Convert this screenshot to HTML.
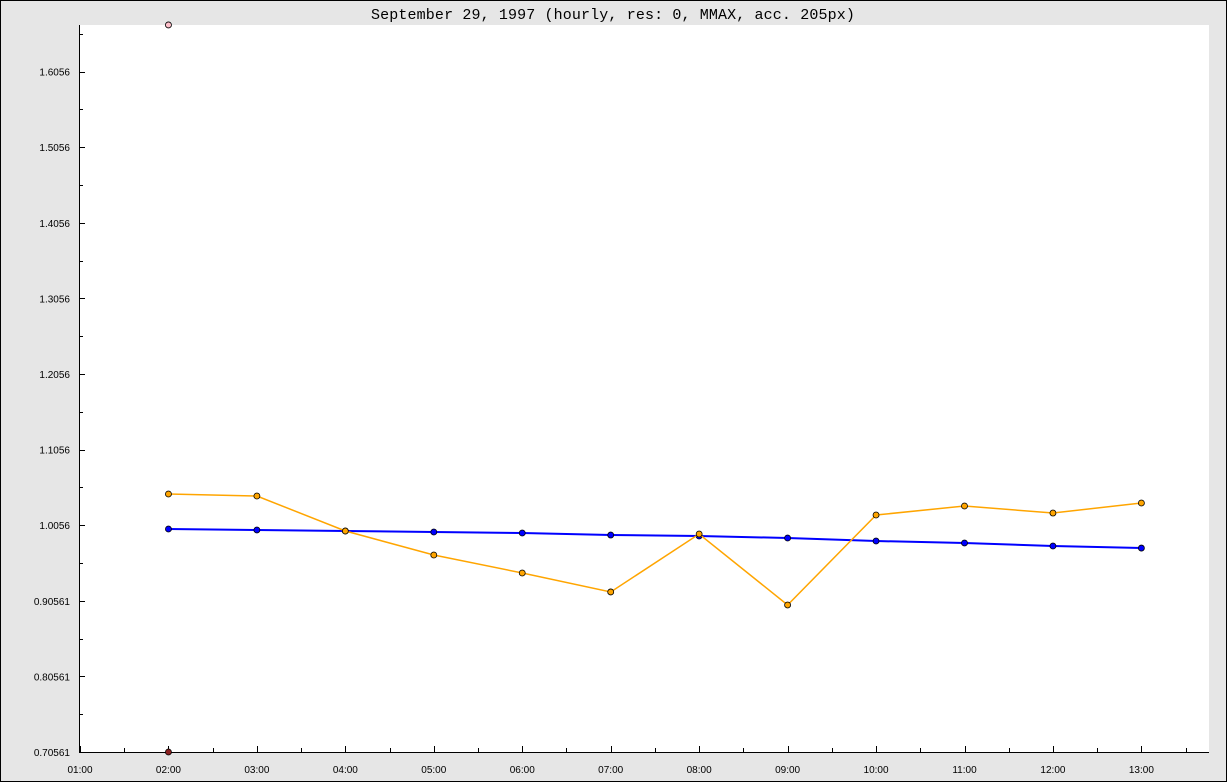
<!DOCTYPE html>
<html><head><meta charset="utf-8"><style>
body{margin:0;background:#e6e6e6;}
svg{display:block;}
</style></head><body>
<svg id="chart" width="1227" height="782" xmlns="http://www.w3.org/2000/svg">
<rect x="0.5" y="0.5" width="1226" height="781" fill="#e6e6e6" stroke="#000"/>
<rect x="79" y="25" width="1130" height="727" fill="#fff"/>
<text x="613" y="19" text-anchor="middle" font-family="Liberation Mono, monospace" font-size="15" letter-spacing="0.13" fill="#000">September 29, 1997 (hourly, res: 0, MMAX, acc. 205px)</text>
<g id="axes"></g>
<g id="series"></g>
</svg>
<script>
const hours = ["02:00","03:00","04:00","05:00","06:00","07:00","08:00","09:00","10:00","11:00","12:00","13:00"];
const xTickLabels = ["01:00","02:00","03:00","04:00","05:00","06:00","07:00","08:00","09:00","10:00","11:00","12:00","13:00"];
const yTickLabels = ["0.70561","0.80561","0.90561","1.0056","1.1056","1.2056","1.3056","1.4056","1.5056","1.6056"];
const blueValues = [1.0006,0.9993,0.9979,0.9966,0.9953,0.9926,0.9913,0.9887,0.9847,0.9821,0.9781,0.9754];
const orangeValues = [1.0469,1.0442,0.9979,0.9662,0.9424,0.9173,0.9940,0.9001,1.0191,1.0310,1.0217,1.0350];
const maxMarkerValue = [1.6673];
const minMarkerValue = [0.70561];

const NS="http://www.w3.org/2000/svg";
const yMin=0.70561;
function yPos(v){return 752-(v-yMin)*756;}
function xPos(i){return 80+i*88.45;} // i = hour index from 01:00
function mk(tag,attrs,parent){const e=document.createElementNS(NS,tag);for(const k in attrs)e.setAttribute(k,attrs[k]);parent.appendChild(e);return e;}
const axes=document.getElementById('axes'), series=document.getElementById('series');

let l=mk('line',{x1:79.5,y1:25,x2:79.5,y2:752,stroke:'#000'},axes);


l=mk('line',{x1:79,y1:752.5,x2:1209,y2:752.5,stroke:'#000'},axes);



for(let k=0;k<20;k++){
  const v=yMin+k*0.05; const y=Math.round(yPos(v))+0.5;
  if(y<25)continue;
  const t=mk('line',{x1:80,y1:y,x2:k%2?83:85,y2:y,stroke:'#000'},axes);
  
  
}
yTickLabels.forEach((s,k)=>{
  const v=parseFloat(s); const y=yPos(yMin+k*0.1);
  const t=mk('text',{x:70,y:y+4,'text-anchor':'end','font-family':'Liberation Sans, sans-serif','font-size':'10',fill:'#000'},axes);
  t.textContent=s;
  
  
});
for(let k=0;k<=26;k++){
  const x=Math.round(80+k*44.225)+0.5;
  if(x>1209)continue;
  const t=mk('line',{x1:x,y1:752,x2:x,y2:k%2?748:746,stroke:'#000'},axes);
  
  
}
xTickLabels.forEach((s,i)=>{
  const t=mk('text',{x:xPos(i),y:773,'text-anchor':'middle','font-family':'Liberation Sans, sans-serif','font-size':'10',fill:'#000'},axes);
  t.textContent=s;
  
  
});

function drawSeries(vals,color,width,fill,name){
  const pts=vals.map((v,i)=>xPos(i+1).toFixed(1)+','+yPos(v).toFixed(1)).join(' ');
  const p=mk('polyline',{points:pts,fill:'none',stroke:color,'stroke-width':width},series);
  
  
  vals.forEach((v,i)=>{
    const c=mk('circle',{cx:xPos(i+1),cy:yPos(v),r:3,fill:fill,stroke:'#000','stroke-width':0.8},series);
    
    
  });
}
drawSeries(blueValues,'#0000ff',2,'#0000ff','blue-series');
drawSeries(orangeValues,'#ffa500',1.5,'#ffa500','orange-series');
let c=mk('circle',{cx:xPos(1),cy:yPos(maxMarkerValue[0]),r:3,fill:'#ffc0cb',stroke:'#000','stroke-width':0.8},series);


c=mk('circle',{cx:xPos(1),cy:yPos(minMarkerValue[0]),r:3,fill:'#8b2020',stroke:'#000','stroke-width':0.8},series);


</script>
</body></html>
